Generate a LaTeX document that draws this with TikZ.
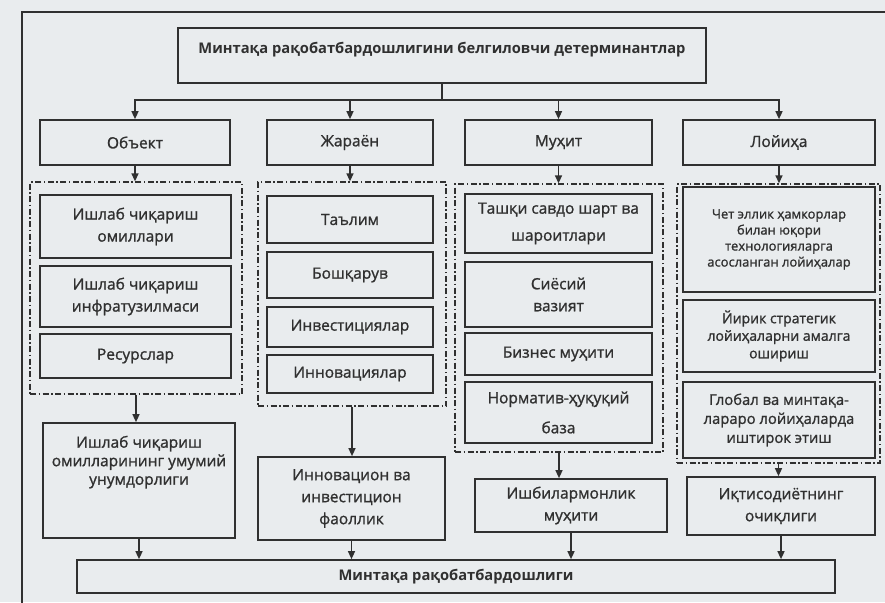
\documentclass[tikz,border=0pt]{standalone}
\usepackage{fontspec}
\setmainfont{Open Sans}
\newfontfamily\semifont{Open Sans}[BoldFont={Open Sans},BoldFeatures={FakeBold=1.2}]
\usetikzlibrary{arrows.meta}
\definecolor{paper}{RGB}{233,236,238}
\definecolor{ink}{RGB}{48,48,48}

\begin{document}
\begin{tikzpicture}[x=1pt,y=-1pt]
  \tikzstyle{box}=[draw=ink,line width=1.7pt,align=center,inner sep=0pt,text=ink,font=\semifont\bfseries\fontsize{15.5}{22}\selectfont]
  \tikzstyle{title}=[box,font=\normalfont\bfseries\fontsize{14.7}{18}\selectfont]
  \tikzstyle{group}=[draw=ink,line width=1.3pt,dash pattern=on 6pt off 2.5pt on 1.5pt off 2.5pt,inner sep=0pt]
  \tikzstyle{arr}=[draw=ink,line width=1.4pt,-{Triangle[length=8pt,width=7pt]}]
  \useasboundingbox[fill=paper] (0,0) rectangle (885,602);
  \clip (0,0) rectangle (885,602);
  \draw[ink,line width=1.8pt] (22,610) -- (22,12) -- (895,12);

  \node[title,minimum width=528pt,minimum height=55pt,text height=11pt,text depth=16pt] (det) at (442,55.5)
    {Минтақа рақобатбардошлигини белгиловчи детерминантлар};

  \node[box,minimum width=190pt,minimum height=45pt] (obj) at (135,142.5) {Объект};
  \node[box,minimum width=166pt,minimum height=45pt] (jar) at (350,142.5) {Жараён};
  \node[box,minimum width=187pt,minimum height=45pt] (muh) at (558.5,142.5) {Муҳит};
  \node[box,minimum width=192pt,minimum height=45pt] (loy) at (779,142.5) {Лойиҳа};

  \node[group,minimum width=212pt,minimum height=212pt] (g1) at (136,288) {};
  \node[group,minimum width=188pt,minimum height=224pt] (g2) at (352,294) {};
  \node[group,minimum width=208pt,minimum height=268pt] (g3) at (559,318) {};
  \node[group,minimum width=203pt,minimum height=279pt] (g4) at (778.5,323.5) {};

  \node[box,minimum width=191pt,minimum height=63pt] (omil) at (135.5,226.5) {Ишлаб чиқариш\\омиллари};
  \node[box,minimum width=191pt,minimum height=61pt] (infra) at (135.5,296.5) {Ишлаб чиқариш\\инфратузилмаси};
  \node[box,minimum width=191pt,minimum height=44pt] (res) at (135.5,356) {Ресурслар};

  \node[box,minimum width=166pt,minimum height=47pt] (talim) at (350,219.5) {Таълим};
  \node[box,minimum width=166pt,minimum height=46pt] (bosh) at (350,275) {Бошқарув};
  \node[box,minimum width=166pt,minimum height=40pt] (inv) at (350,327) {Инвестициялар};
  \node[box,minimum width=166pt,minimum height=38pt] (innov) at (350,374) {Инновациялар};

  \node[box,minimum width=187pt,minimum height=59pt] (savdo) at (558.5,223.5) {Ташқи савдо шарт ва\\[5pt]шароитлари};
  \node[box,minimum width=187pt,minimum height=65pt] (siyos) at (558.5,294.5) {Сиёсий\\вазият};
  \node[box,minimum width=187pt,minimum height=42pt] (biznes) at (558.5,354) {Бизнес муҳити};
  \node[box,minimum width=187pt,minimum height=61pt] (norm) at (558.5,412.5) {Норматив-ҳуқуқий\\[8pt]база};

  \node[box,font=\semifont\bfseries\fontsize{13}{16}\selectfont,minimum width=192pt,minimum height=105pt] (chet) at (779,239.5)
    {Чет эллик ҳамкорлар\\билан юқори\\технологияларга\\асосланган лойиҳалар};
  \node[box,font=\semifont\bfseries\fontsize{14}{17.5}\selectfont,minimum width=192pt,minimum height=72pt] (yirik) at (779,336)
    {Йирик стратегик\\лойиҳаларни амалга\\ошириш};
  \node[box,font=\semifont\bfseries\fontsize{14.8}{19}\selectfont,minimum width=192pt,minimum height=76pt] (glob) at (779,420)
    {Глобал ва минтақа-\\лараро лойиҳаларда\\иштирок этиш};

  \node[box,font=\semifont\bfseries\fontsize{15.5}{18.5}\selectfont,minimum width=192pt,minimum height=115pt] (unum) at (139,480.5)
    {Ишлаб чиқариш\\омилларининг умумий\\унумдорлиги\\[22pt]};
  \node[box,minimum width=187pt,minimum height=83pt] (faol) at (351.5,498.5) {Инновацион ва\\инвестицион\\фаоллик};
  \node[box,minimum width=192pt,minimum height=53pt] (ishbil) at (571,505.5) {Ишбилармонлик\\муҳити};
  \node[box,minimum width=188pt,minimum height=58pt] (ochiq) at (781,506) {Иқтисодиётнинг\\очиқлиги};

  \node[title,minimum width=758pt,minimum height=33pt] (raq) at (456,576.5) {Минтақа рақобатбардошлиги};

  \draw[arr] (det.south) -- ++(0,16) -| (obj.north);
  \draw[arr] (det.south) -- ++(0,16) -| (jar.north);
  \draw[arr] (det.south) -- ++(0,16) -| (muh.north);
  \draw[arr] (det.south) -- ++(0,16) -| (loy.north);

  \draw[arr] (obj.south) -- (obj.south |- g1.north);
  \draw[arr] (jar.south) -- (jar.south |- g2.north);
  \draw[arr] (muh.south) -- (muh.south |- g3.north);
  \draw[arr] (loy.south) -- (loy.south |- g4.north);

  \draw[arr] (g1.south) -- (g1.south |- unum.north);
  \draw[arr] (g2.south) -- (g2.south |- faol.north);
  \draw[arr] (g3.south) -- (g3.south |- ishbil.north);
  \draw[arr] (g4.south) -- (g4.south |- ochiq.north);

  \draw[arr] (unum.south) -- (unum.south |- raq.north);
  \draw[arr] (faol.south) -- (faol.south |- raq.north);
  \draw[arr] (ishbil.south) -- (ishbil.south |- raq.north);
  \draw[arr] (ochiq.south) -- (ochiq.south |- raq.north);
\end{tikzpicture}
\end{document}
